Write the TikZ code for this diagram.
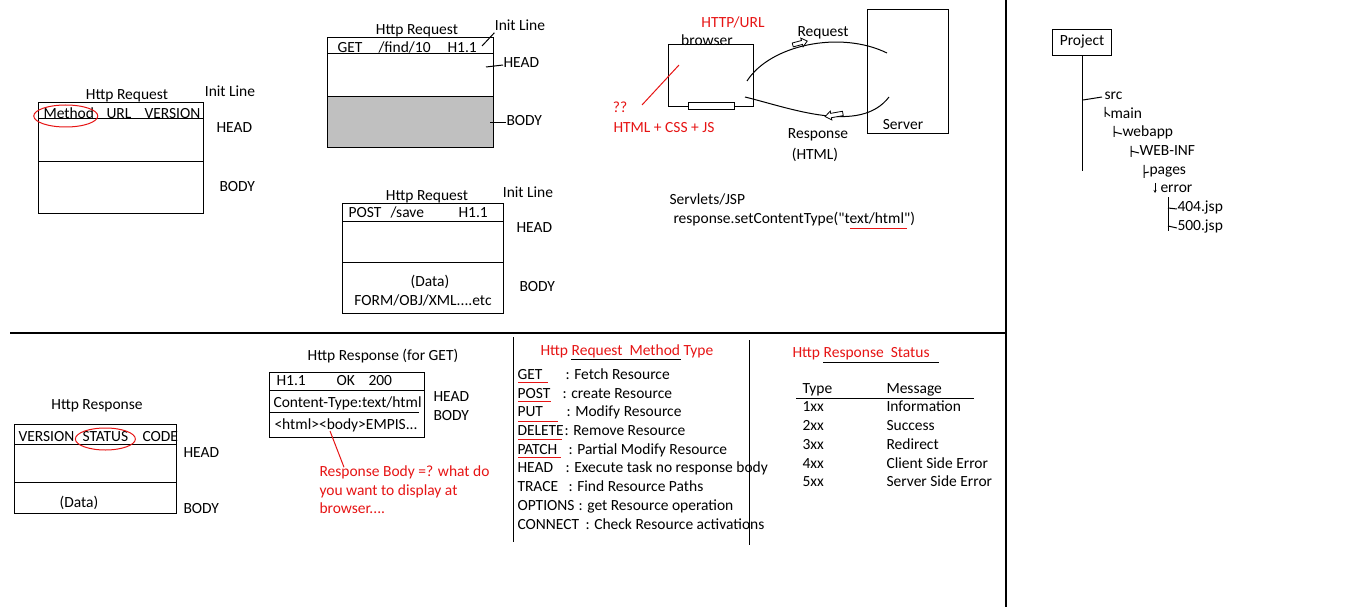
\documentclass[tikz,border=0pt]{standalone}
\usepackage{fontspec}
\setmainfont{Carlito}
\setmonofont{Carlito}
\usetikzlibrary{arrows.meta}
\definecolor{pen}{RGB}{230,20,20}
\definecolor{bodygray}{RGB}{192,192,192}
\begin{document}
\begin{tikzpicture}[x=1pt,y=-1pt,line width=1pt,
    every node/.style={inner sep=0pt,text height=0.65em,text depth=0.2em,yshift=-3pt,font=\fontsize{15.5}{18}\selectfont},
    note/.style={text=pen},
    blockarrow/.style={fill=white,line width=0.8pt}]
    \useasboundingbox (0,0) rectangle (1366,607);
    % dividers
    \draw[line width=1.3pt] (1006,0) -- (1006,607);
    \draw[line width=1.3pt] (10,333) -- (1006,333);
    % request layout
    \node (reqA) at (127,94) {Http Request};
    \node (initA) at (230,91) {Init Line};
    \draw (38,103) rectangle (203,213);
    \draw (38,119) -- (203,119);
    \draw (38,162) -- (203,162);
    \node[anchor=west] (methodA) at (43,113) {Method};
    \node[anchor=west] (urlA) at (106,113) {URL};
    \node[anchor=west] (versionA) at (144,113) {VERSION};
    \draw[pen] ([xshift=-3pt]methodA.center) ellipse [x radius=32pt,y radius=11pt];
    \node[anchor=west] (headA) at (216,127) {HEAD};
    \node[anchor=west] (bodyA) at (219,186) {BODY};
    % GET request
    \node (reqB) at (417,29) {Http Request};
    \node (initB) at (520,25) {Init Line};
    \fill[bodygray] (327,97) rectangle (493,148);
    \draw (327,38) rectangle (493,148);
    \draw (327,54) -- (493,54);
    \draw (327,97) -- (493,97);
    \node[anchor=west] (getB) at (337,47) {GET};
    \node[anchor=west] (pathB) at (378,47) {/find/10};
    \node[anchor=west] (verB) at (447,47) {H1.1};
    \node[anchor=west] (headB) at (503,62) {HEAD};
    \node[anchor=west] (bodyB) at (506,120) {BODY};
    \coordinate (initBtip) at (482,43);
    \coordinate (headBtip) at (486,64);
    \coordinate (bodyBtip) at (490,120);
    \draw (initBtip) -- (initB.south west);
    \draw (headBtip) -- (headB.west);
    \draw (bodyBtip) -- (bodyB.west);
    % POST request
    \node (reqC) at (427,195) {Http Request};
    \node (initC) at (528,192) {Init Line};
    \draw (342,203) rectangle (503,313);
    \draw (342,221) -- (503,221);
    \draw (342,262) -- (503,262);
    \node[anchor=west] (postC) at (348,212) {POST};
    \node[anchor=west] (pathC) at (390,212) {/save};
    \node[anchor=west] (verC) at (458,212) {H1.1};
    \node (dataC) at (430,281) {(Data)};
    \node (formC) at (423,300) {FORM/OBJ/XML....etc};
    \node[anchor=west] (headC) at (516,227) {HEAD};
    \node[anchor=west] (bodyC) at (519,286) {BODY};
    % browser and server
    \node[note] (httpurl) at (733,22) {HTTP/URL};
    \node (browserlbl) at (707,40) {browser};
    \draw (668,45) rectangle (753,107);
    \draw[fill=white] (688,103) rectangle (734,110);
    \node[note] (qmark) at (620,107) {??};
    \node[note,anchor=west] (htmlcss) at (613,127) {HTML + CSS + JS};
    \coordinate (brIn) at (679,62);
    \coordinate (brOut) at (642,102);
    \draw[pen] (brIn) -- (brOut);
    \draw (867,10) rectangle (948,134);
    \node (server) at (903,124) {Server};
    \coordinate (reqFrom) at (747,78);
    \coordinate (reqTo) at (887,50);
    \coordinate (resFrom) at (889,94);
    \coordinate (resTo) at (745,94);
    \draw (reqFrom) .. controls (770,45) and (840,30) .. (reqTo);
    \draw (resTo) .. controls (790,108) and (860,135) .. (resFrom);
    \draw[blockarrow,shift={(800,43)},rotate=15] (-7.5,-2) -- (2,-2) -- (2,-4.5) -- (7.5,0) -- (2,4.5) -- (2,2) -- (-7.5,2) -- cycle;
    \draw[blockarrow,shift={(834,115)},rotate=190] (-9,-2.2) -- (3,-2.2) -- (3,-4.5) -- (9,0) -- (3,4.5) -- (3,2.2) -- (-9,2.2) -- cycle;
    \node (reqlbl) at (823,31) {Request};
    \node (reslbl) at (818,133) {Response};
    \node (htmllbl) at (815,154) {(HTML)};
    \node[anchor=west] (servlets) at (669,199) {Servlets/JSP};
    \node[anchor=west] (setct) at (673,218) {response.setContentType(\texttt{"}text/html\texttt{"})};
    \coordinate (ulFrom) at (850,225);
    \coordinate (ulTo) at (907,225);
    \draw[pen] (ulFrom) -- (ulTo);
    % project tree
    \node[draw,minimum width=59pt,minimum height=26pt,yshift=0pt] (project) at (1082,40) {Project};
    \coordinate (trunkEnd) at (1082,168);
    \draw (project.south) -- (trunkEnd);
    \node[anchor=west] (src) at (1104,94) {src};
    \coordinate (srcRoot) at (1083,97);
    \draw (srcRoot) -- ([xshift=-2pt]src.west);
    \node[anchor=west] (main) at (1110,113) {main};
    \draw (1105,107) -- (1105,117) (1105,112) -- (main.west);
    \node[anchor=west] (webapp) at (1122,131) {webapp};
    \draw (1114,126) -- (1114,137) (1114,132) -- (webapp.west);
    \node[anchor=west] (webinf) at (1139,150) {WEB-INF};
    \draw (1131,146) -- (1131,157) (1131,151) -- (webinf.west);
    \node[anchor=west] (pages) at (1149,169) {pages};
    \draw (1144,165) -- (1144,178) (1144,173) -- (pages.west);
    \node[anchor=west] (error) at (1160,187) {error};
    \draw[-{Stealth[length=3pt,width=3pt]},line width=0.8pt] (1155,183) -- (1155,193);
    \node[anchor=west] (jspA) at (1177,206) {404.jsp};
    \node[anchor=west] (jspB) at (1177,225) {500.jsp};
    \draw (1168,197) -- (1168,231);
    \draw (1168,208) -- (jspA.west);
    \draw (1168,226) -- (jspB.west);
    % response layout
    \node (respA) at (97,404) {Http Response};
    \draw (14,424) rectangle (176,513);
    \draw (14,444) -- (176,444);
    \draw (14,482) -- (176,482);
    \node[anchor=west] (versionR) at (18,436) {VERSION};
    \node[anchor=west] (statusR) at (82,436) {STATUS};
    \node[anchor=west] (codeR) at (142,436) {CODE};
    \draw[pen] (statusR.center) ellipse [x radius=30pt,y radius=11pt];
    \node (dataR) at (79,502) {(Data)};
    \node[anchor=west] (headR) at (183,452) {HEAD};
    \node[anchor=west] (bodyR) at (183,508) {BODY};
    % GET response
    \node (respB) at (383,355) {Http Response (for GET)};
    \draw (269,372) rectangle (424,437);
    \draw (269,390) -- (424,390);
    \draw (269,412) -- (419,412);
    \node[anchor=west] (verG) at (276,380) {H1.1};
    \node[anchor=west] (okG) at (336,380) {OK};
    \node[anchor=west] (codeG) at (368,380) {200};
    \node[anchor=west] (ctG) at (273,402) {Content-Type:text/html};
    \node[anchor=west] (htmlG) at (274,424) {<html><body>EMPIS...};
    \node[anchor=west] (headG) at (433,396) {HEAD};
    \node[anchor=west] (bodyG) at (433,415) {BODY};
    \coordinate (bodyTip) at (330,428);
    \node[note,anchor=west] (noteA) at (319,471) {Response Body =? what do};
    \node[note,anchor=west] (noteB) at (319,490) {you want to display at};
    \node[note,anchor=west] (noteC) at (319,508) {browser....};
    \draw[pen] (bodyTip) -- ([xshift=25pt,yshift=2pt]noteA.north west);
    % method types
    \draw (513,337) -- (513,542);
    \draw (749,340) -- (749,545);
    \node[note,anchor=west] (mtitle) at (540,350) {Http Request\ \ Method Type};
    \draw (571,359) -- (681,359);
    \node[anchor=west] (mGet) at (517,374) {GET};
    \node[anchor=west] (dGet) at (565,374) {: Fetch Resource};
    \node[anchor=west] (mPost) at (517,393) {POST};
    \node[anchor=west] (dPost) at (562,393) {: create Resource};
    \node[anchor=west] (mPut) at (517,411) {PUT};
    \node[anchor=west] (dPut) at (566,411) {: Modify Resource};
    \node[anchor=west] (mDelete) at (517,430) {DELETE};
    \node[anchor=west] (dDelete) at (564,430) {: Remove Resource};
    \node[anchor=west] (mPatch) at (517,449) {PATCH};
    \node[anchor=west] (dPatch) at (568,449) {: Partial Modify Resource};
    \node[anchor=west] (mHead) at (517,467) {HEAD};
    \node[anchor=west] (dHead) at (565,467) {: Execute task no response body};
    \node[anchor=west] (mTrace) at (517,486) {TRACE};
    \node[anchor=west] (dTrace) at (568,486) {: Find Resource Paths};
    \node[anchor=west] (mOptions) at (517,505) {OPTIONS};
    \node[anchor=west] (dOptions) at (578,505) {: get Resource operation};
    \node[anchor=west] (mConnect) at (517,524) {CONNECT};
    \node[anchor=west] (dConnect) at (585,524) {: Check Resource activations};
    \draw[pen] (518,382) -- (548,382);
    \draw[pen] (518,401) -- (551,401);
    \draw[pen] (518,421) -- (558,421);
    \draw[pen] (518,439) -- (562,439);
    \draw[pen] (518,457) -- (561,457);
    % response status
    \node[note,anchor=west] (stitle) at (792,352) {Http Response\ \ Status};
    \draw (823,362) -- (939,362);
    \node[anchor=west] (tType) at (802,388) {Type};
    \node[anchor=west] (tMsg) at (886,388) {Message};
    \draw (796,398) -- (974,398);
    \node[anchor=west] (s1) at (802,406) {1xx};
    \node[anchor=west] (m1) at (886,406) {Information};
    \node[anchor=west] (s2) at (802,425) {2xx};
    \node[anchor=west] (m2) at (886,425) {Success};
    \node[anchor=west] (s3) at (802,444) {3xx};
    \node[anchor=west] (m3) at (886,444) {Redirect};
    \node[anchor=west] (s4) at (802,463) {4xx};
    \node[anchor=west] (m4) at (886,463) {Client Side Error};
    \node[anchor=west] (s5) at (802,481) {5xx};
    \node[anchor=west] (m5) at (886,481) {Server Side Error};
\end{tikzpicture}
\end{document}
